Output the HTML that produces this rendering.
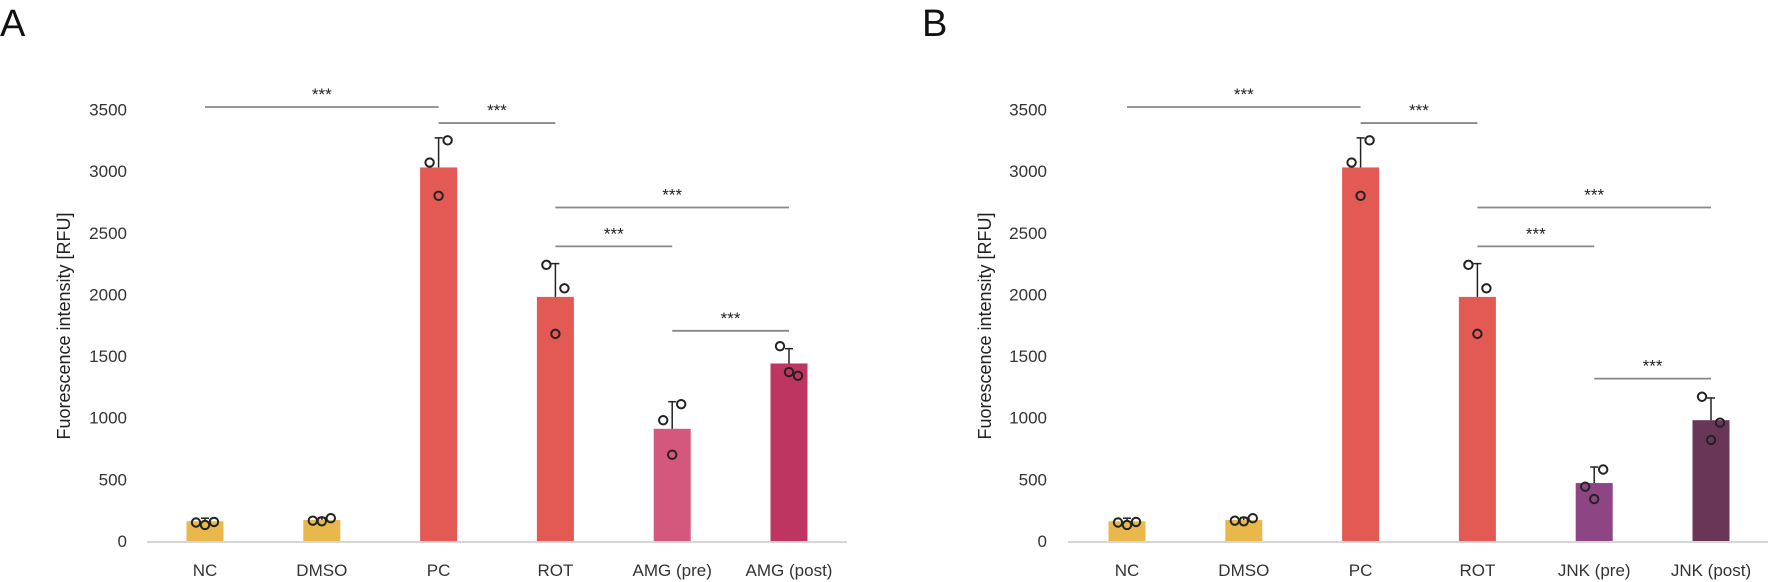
<!DOCTYPE html>
<html><head><meta charset="utf-8"><style>
html,body{margin:0;padding:0;background:#fff;}
svg{display:block;font-family:"Liberation Sans",Arial,sans-serif;}
</style></head><body>
<svg id="chart" width="1772" height="582" viewBox="0 0 1772 582" xmlns="http://www.w3.org/2000/svg"></svg>
<script>
const catsA = ["NC","DMSO","PC","ROT","AMG (pre)","AMG (post)"];
const catsB = ["NC","DMSO","PC","ROT","JNK (pre)","JNK (post)"];
const meansA = [160,170,3030,1980,910,1440];
const meansB = [160,170,3030,1980,470,980];
const errTopA = [185,190,3270,2250,1130,1560];
const errTopB = [185,190,3270,2250,600,1160];
const ptsA = [[150,155,130],[165,185,160],[3070,3250,2800],[2240,2050,1680],[980,1110,700],[1580,1340,1370]];
const ptsB = [[150,155,130],[165,185,160],[3070,3250,2800],[2240,2050,1680],[440,580,340],[1170,960,820]];
const colorsA = ["#E8B84C","#E8B84C","#E35A55","#E35A55","#D4587E","#BE3561"];
const colorsB = ["#E8B84C","#E8B84C","#E35A55","#E35A55","#8E4584","#6A3658"];
const yTicks = [0,500,1000,1500,2000,2500,3000,3500];
const bracketsA = [[0,2,3520],[2,3,3390],[3,5,2705],[3,4,2390],[4,5,1705]];
const bracketsB = [[0,2,3520],[2,3,3390],[3,5,2705],[3,4,2390],[4,5,1317]];

const NS="http://www.w3.org/2000/svg";
const svg=document.getElementById('chart');
function mk(tag,attrs,parent){const e=document.createElementNS(NS,tag);for(const k in attrs)e.setAttribute(k,attrs[k]);(parent||svg).appendChild(e);return e;}

function panel(opt){
  const g=mk('g',{});
  
  
  const y0=541, yTop=109.5, vmax=3500;
  const y=v=>y0-(v/vmax)*(y0-yTop);
  const x=i=>opt.x0+i*opt.step;
  const letter=mk('text',{x:opt.letterX,y:36,'font-size':38,fill:'#111'},g);letter.textContent=opt.letter;
  
  
  yTicks.forEach(t=>{const tx=mk('text',{x:opt.tickRight,y:y(t)+6,'font-size':17,'text-anchor':'end',fill:'#333'},g);tx.textContent=t;
    
    });
  const tt=mk('text',{x:0,y:0,'font-size':18,'text-anchor':'middle',fill:'#222',transform:`translate(${opt.titleX},326) rotate(-90)`},g);
  tt.textContent='Fuorescence intensity [RFU]';
  
  
  opt.means.forEach((m,i)=>{
    const cx=x(i),bw=37;
    const r=mk('rect',{x:cx-bw/2,y:y(m),width:bw,height:y0-y(m),fill:opt.colors[i]},g);
    
    
    const el=mk('line',{x1:cx,x2:cx,y1:y(m),y2:y(opt.errTop[i]),stroke:'#222','stroke-width':1.5},g);
    
    
    mk('line',{x1:cx-4,x2:cx+4,y1:y(opt.errTop[i]),y2:y(opt.errTop[i]),stroke:'#222','stroke-width':1.5},g);
    const offs=[-9,9,0];
    opt.pts[i].forEach((p,j)=>{const c=mk('circle',{cx:cx+offs[j],cy:y(p),r:4.2,fill:'none',stroke:'#222','stroke-width':2},g);
      
      });
    const lb=mk('text',{x:cx,y:576,'font-size':17,'text-anchor':'middle',fill:'#333'},g);lb.textContent=opt.cats[i];
    
    
  });
  const ax=mk('line',{x1:opt.axisL,x2:opt.axisR,y1:y0+1,y2:y0+1,stroke:'#d6d6d6','stroke-width':2},g);
  
  
  opt.brackets.forEach(b=>{
    const ly=y(b[2]);
    const l=mk('line',{x1:x(b[0]),x2:x(b[1]),y1:ly,y2:ly,stroke:'#888','stroke-width':1.8},g);
    
    
    const s=mk('text',{x:(x(b[0])+x(b[1]))/2,y:ly-7,'font-size':17,'text-anchor':'middle',fill:'#222'},g);s.textContent='***';
    
    
  });
}
panel({name:'panel-a',letter:'A',letterX:0,x0:205,step:116.8,tickRight:127,titleX:70,axisL:147,axisR:847,
  cats:catsA,means:meansA,errTop:errTopA,pts:ptsA,colors:colorsA,brackets:bracketsA});
panel({name:'panel-b',letter:'B',letterX:922,x0:1127,step:116.8,tickRight:1047,titleX:991,axisL:1068,axisR:1768,
  cats:catsB,means:meansB,errTop:errTopB,pts:ptsB,colors:colorsB,brackets:bracketsB});
</script>
</body></html>
